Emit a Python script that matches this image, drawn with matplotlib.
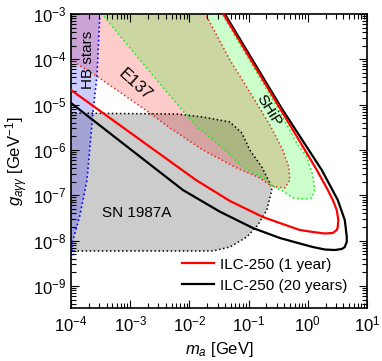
import numpy as np
import matplotlib
matplotlib.use("Agg")
import matplotlib.pyplot as plt
import matplotlib.ticker as mt

plt.rcParams['font.family'] = ['Liberation Sans', 'DejaVu Sans']
plt.rcParams['mathtext.fontset'] = 'custom'
plt.rcParams['mathtext.rm'] = 'Liberation Sans'
plt.rcParams['mathtext.it'] = 'Liberation Sans:italic'
plt.rcParams['mathtext.bf'] = 'Liberation Sans:bold'

# ---- data (log10 of m_a [GeV], log10 of g [GeV^-1]) ----
ilc1_lm = [-4.0, -1.890, -1.316, -0.759, -0.473, -0.135, 0.084, 0.287, 0.422, 0.489, 0.506, 0.515, 0.489, 0.422, 0.338, 0.152, -0.473, -1.435, -1.50]
ilc1_lg = [-4.676, -6.660, -7.123, -7.476, -7.609, -7.763, -7.807, -7.840, -7.829, -7.763, -7.697, -7.542, -7.322, -7.101, -6.881, -6.440, -5.073, -2.978, -2.85]

ilc20_lm = [-4.0, -2.110, -1.485, -0.928, -0.473, -0.135, 0.084, 0.287, 0.456, 0.574, 0.624, 0.658, 0.658, 0.641, 0.624, 0.506, 0.371, 0.236, -0.445, -1.412, -1.47]
ilc20_lg = [-4.963, -6.881, -7.359, -7.719, -7.939, -8.061, -8.138, -8.193, -8.204, -8.182, -8.138, -8.028, -7.917, -7.719, -7.542, -7.101, -6.771, -6.440, -5.073, -2.978, -2.85]

sn_lm = [-4.2, -2.211, -1.772, -1.316, -1.114, -0.979, -0.776, -0.641, -0.608, -0.692, -0.844, -1.030, -1.316, -1.603, -1.873, -4.2]
sn_lg = [-5.183, -5.205, -5.271, -5.381, -5.624, -5.999, -6.374, -6.727, -6.881, -7.322, -7.653, -7.917, -8.138, -8.226, -8.226, -8.226]

e137_lm = [-4.2, -4.0, -3.544, -2.667, -2.329, -1.772, -1.198, -0.810, -0.641, -0.523, -0.388, -0.304, -0.321, -0.422, -0.641, -0.928, -1.316, -1.738, -1.78, -4.2]
e137_lg = [-3.88, -4.014, -4.389, -5.183, -5.514, -5.999, -6.396, -6.616, -6.771, -6.815, -6.837, -6.660, -6.374, -5.999, -5.448, -4.830, -4.014, -2.978, -2.85, -2.85]

ship_lm = [-3.54, -2.667, -2.194, -1.873, -1.536, -1.097, -0.692, -0.641, -0.422, -0.253, -0.051, 0.068, 0.118, 0.084, -0.017, -0.186, -0.506, -1.468, -1.50]
ship_lg = [-2.90, -4.279, -5.007, -5.492, -5.845, -6.374, -6.660, -6.771, -6.903, -7.057, -7.079, -7.057, -6.881, -6.550, -6.153, -5.845, -5.073, -2.956, -2.90]

hb_lm = [-4.2, -3.485, -3.511, -3.561, -3.629, -3.730, -3.848, -3.966, -4.0, -4.03, -4.2]
hb_lg = [-2.85, -2.85, -2.978, -4.345, -5.183, -6.660, -7.432, -7.983, -8.469, -8.60, -8.60]

ILC_labels = ["ILC-250 (1 year)", "ILC-250 (20 years)"]


def tolin(a):
    return np.power(10.0, np.asarray(a))


fig = plt.figure(figsize=(3.82, 3.61), dpi=100)
ax = fig.add_axes([71/382, 53/361, 296/382, 294/361])
ax.set_xscale('log')
ax.set_yscale('log')
ax.set_xlim(1e-4, 1e1)
ax.set_ylim(10**-9.483, 1e-3)

a = 0.2
# SN 1987A
ax.fill(tolin(sn_lm), tolin(sn_lg), color='black', alpha=a, lw=0, zorder=1)
ax.plot(tolin(sn_lm), tolin(sn_lg), ls=':', color='black', lw=1.1, zorder=2)
# E137
ax.fill(tolin(e137_lm), tolin(e137_lg), color='red', alpha=a, lw=0, zorder=1)
ax.plot(tolin(e137_lm), tolin(e137_lg), ls=':', color='#e03020', lw=1.1, zorder=2)
# SHiP
ax.fill(tolin(ship_lm), tolin(ship_lg), color='#00ff00', alpha=a, lw=0, zorder=1)
ax.plot(tolin(ship_lm), tolin(ship_lg), ls=':', color='#22ee22', lw=1.2, zorder=2)
# HB stars
ax.fill(tolin(hb_lm), tolin(hb_lg), color='blue', alpha=a, lw=0, zorder=1)
ax.plot(tolin(hb_lm), tolin(hb_lg), ls=':', color='blue', lw=1.2, zorder=2)

# ILC curves
ax.plot(tolin(ilc1_lm), tolin(ilc1_lg), color='red', lw=1.6, zorder=4, label=ILC_labels[0])
ax.plot(tolin(ilc20_lm), tolin(ilc20_lg), color='black', lw=1.6, zorder=3, label=ILC_labels[1])

# labels in plot
ax.text(1.94e-4, 9.7e-5, 'HB stars', rotation=90, ha='center', va='center', fontsize=11, zorder=5)
ax.text(1.2e-3, 2.7e-5, 'E137', rotation=-42, ha='center', va='center', fontsize=12, zorder=5)
ax.text(0.22, 7.6e-6, 'SHiP', rotation=-58, ha='center', va='center', fontsize=11, zorder=5)
ax.text(1.3e-3, 4.1e-8, 'SN 1987A', ha='center', va='center', fontsize=11, zorder=5)

ax.set_xlabel(r'$m_a$ [GeV]', fontsize=12, labelpad=4)
ax.set_ylabel(r'$g_{a\gamma\gamma}$ [GeV$^{-1}$]', fontsize=12, labelpad=2)

ax.tick_params(which='both', direction='in', top=True, right=True, labelsize=12, width=0.8)
ax.tick_params(which='major', length=6)
ax.tick_params(which='minor', length=3.3)
ax.tick_params(axis='x', pad=5)
ax.xaxis.set_major_locator(mt.LogLocator(base=10, numticks=20))
ax.xaxis.set_minor_locator(mt.LogLocator(base=10, subs=np.arange(2, 10), numticks=20))
ax.yaxis.set_major_locator(mt.LogLocator(base=10, numticks=20))
ax.yaxis.set_minor_locator(mt.LogLocator(base=10, subs=np.arange(2, 10), numticks=20))
ax.yaxis.set_minor_formatter(mt.NullFormatter())
ax.xaxis.set_minor_formatter(mt.NullFormatter())
for s in ax.spines.values():
    s.set_linewidth(1.2)

leg = ax.legend(loc='lower left', bbox_to_anchor=(0.374, 0.052), frameon=False, fontsize=11,
                handlelength=2.1, handletextpad=0.4, labelspacing=0.45, borderpad=0, borderaxespad=0)

fig.savefig('out.png', dpi=100)
